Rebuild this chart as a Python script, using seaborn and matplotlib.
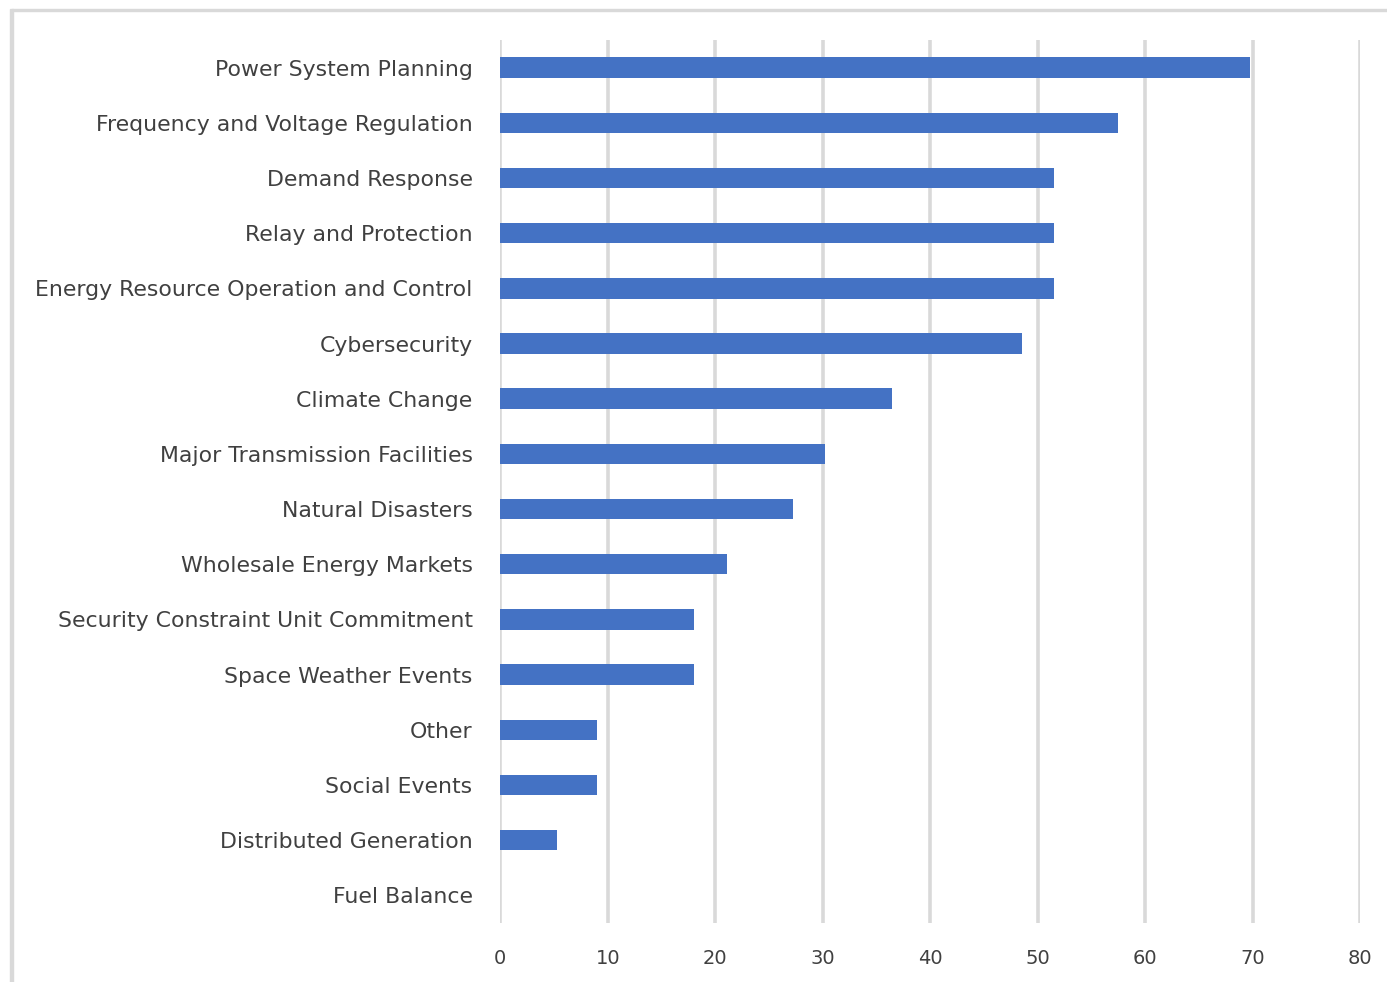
import matplotlib
matplotlib.use("Agg")
import matplotlib.pyplot as plt
import seaborn as sns
from matplotlib.patches import Rectangle

categories = [
    "Power System Planning",
    "Frequency and Voltage Regulation",
    "Demand Response",
    "Relay and Protection",
    "Energy Resource Operation and Control",
    "Cybersecurity",
    "Climate Change",
    "Major Transmission Facilities",
    "Natural Disasters",
    "Wholesale Energy Markets",
    "Security Constraint Unit Commitment",
    "Space Weather Events",
    "Other",
    "Social Events",
    "Distributed Generation",
    "Fuel Balance",
]
values = [69.7, 57.5, 51.5, 51.5, 51.5, 48.5, 36.4, 30.2, 27.2, 21.1, 18.0, 18.0, 9.0, 9.0, 5.3, 0.0]
x_ticks = [0, 10, 20, 30, 40, 50, 60, 70, 80]

sns.set_theme(style="white")
plt.rcParams["font.family"] = ["DejaVu Sans"]

fig = plt.figure(figsize=(13.87, 9.82), dpi=100)
ax = fig.add_axes([0.3607, 0.0601, 0.6201, 0.8992])

sns.barplot(x=values, y=categories, orient="h", color="#4472C4",
            saturation=1, width=0.37, linewidth=0, ax=ax)

ax.set_xlim(0, 80)
ax.set_ylim(15.5, -0.5)
ax.set_xticks(x_ticks)
ax.set_xticklabels([str(t) for t in x_ticks])
ax.set_xlabel("")
ax.set_ylabel("")
ax.grid(axis="x", color="#d9d9d9", linewidth=2.6)
ax.grid(axis="y", visible=False)
ax.set_axisbelow(True)
for s in ax.spines.values():
    s.set_visible(False)
ax.tick_params(axis="both", length=0, labelcolor="#404040")
ax.tick_params(axis="x", pad=19, labelsize=14)
ax.tick_params(axis="y", pad=20, labelsize=15.8)

# chart frame lines along the top and left edges
fig.patches.append(Rectangle((0.0087, 0.9885), 0.9913, 0.0028, transform=fig.transFigure,
                             color="#d9d9d9", zorder=0))
fig.patches.append(Rectangle((0.0072, 0.0), 0.0022, 0.9913, transform=fig.transFigure,
                             color="#d9d9d9", zorder=0))

fig.savefig("out.png", dpi=100, facecolor="white")
